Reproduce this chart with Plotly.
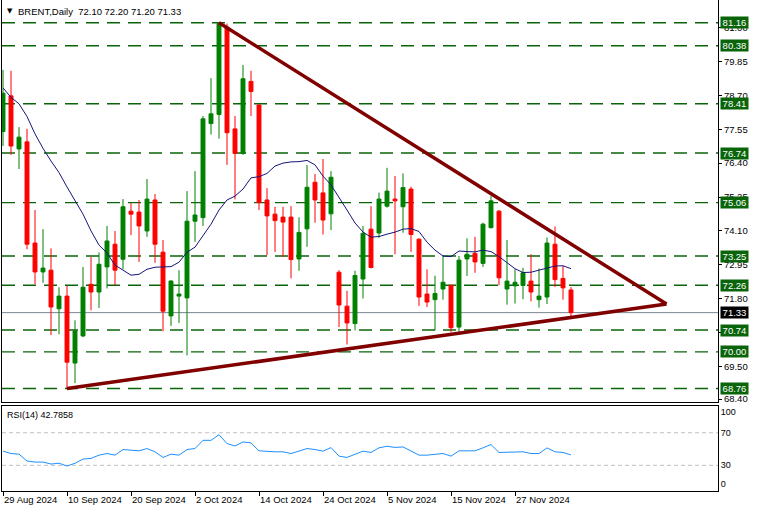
import plotly.graph_objects as go
import pandas as pd

# ---------------- data ----------------
dates = [d.strftime("%d %b %Y") for d in pd.bdate_range("2024-08-29", "2024-12-06")]

opens = [77.47, 78.68, 76.88, 77.12, 73.69, 72.71, 72.77, 71.46, 71.89, 69.62,
         70.54, 72.29, 72.03, 72.88, 73.65, 73.14, 74.77, 74.74, 74.10, 75.15,
         73.38, 71.22, 71.89, 71.83, 74.43, 74.55, 77.74, 78.05, 81.01, 77.56,
         76.73, 79.17, 78.37, 75.15, 74.67, 74.57, 74.57, 73.15, 74.17, 75.75,
         75.39, 74.68, 72.70, 71.55, 70.96, 72.47, 74.16, 74.03, 74.94, 75.18,
         74.92, 75.52, 73.82, 71.96, 71.77, 72.13, 72.26, 70.84, 73.15, 73.34,
         73.00, 74.21, 74.77, 72.13, 72.24, 72.25, 72.40, 71.77, 71.86, 73.65,
         72.49, 72.10]
highs = [79.56, 79.53, 77.62, 77.56, 74.81, 74.16, 73.51, 72.19, 72.24, 71.07,
         72.88, 73.22, 73.37, 74.27, 74.10, 75.18, 75.04, 75.15, 75.86, 75.35,
         73.79, 72.43, 72.77, 75.45, 76.13, 78.00, 79.28, 81.16, 81.13, 78.00,
         79.73, 79.53, 78.40, 75.55, 74.92, 74.92, 74.94, 74.56, 76.34, 76.03,
         76.54, 76.13, 72.77, 72.07, 72.75, 74.27, 74.94, 75.40, 76.24, 75.96,
         76.05, 75.60, 73.85, 72.80, 72.58, 73.25, 72.26, 73.25, 73.85, 73.90,
         74.38, 75.28, 74.81, 73.79, 72.80, 72.85, 73.31, 72.83, 73.88, 74.25,
         72.92, 72.20]
lows = [76.98, 76.68, 76.20, 73.48, 72.29, 72.34, 70.57, 70.60, 68.76, 68.94,
        70.50, 71.41, 71.49, 72.15, 72.26, 72.80, 73.96, 73.05, 73.90, 73.02,
        70.70, 70.88, 70.98, 69.88, 73.73, 74.27, 77.37, 77.23, 76.34, 75.17,
        76.68, 78.00, 74.81, 73.28, 73.39, 73.22, 72.49, 72.75, 73.56, 74.38,
        73.98, 74.13, 70.84, 70.25, 70.73, 71.81, 72.83, 73.87, 74.89, 73.31,
        74.04, 73.39, 71.56, 71.52, 70.73, 71.77, 70.67, 70.64, 72.57, 72.68,
        72.88, 74.19, 72.26, 71.60, 71.64, 71.78, 71.71, 71.50, 71.62, 72.20,
        71.77, 71.20]
closes = [78.77, 76.98, 77.28, 73.65, 72.71, 72.84, 71.52, 71.89, 69.65, 70.71,
          72.19, 72.03, 72.97, 73.76, 72.77, 74.92, 74.67, 74.27, 75.18, 73.65,
          71.38, 72.40, 71.96, 74.43, 74.64, 77.90, 78.07, 81.13, 77.43, 76.73,
          79.26, 78.83, 75.06, 74.61, 74.45, 74.40, 73.13, 74.05, 75.58, 75.15,
          74.47, 75.92, 71.59, 70.98, 72.59, 74.02, 72.86, 75.18, 75.45, 75.12,
          75.57, 73.98, 71.86, 71.69, 71.98, 72.36, 70.82, 73.11, 73.31, 73.05,
          74.33, 75.12, 72.51, 72.40, 72.36, 72.68, 72.03, 71.89, 73.69, 72.45,
          72.17, 71.33]
ma = [78.95, 78.63, 78.41, 77.98, 77.39, 76.90, 76.47, 76.08, 75.59, 75.15,
      74.67, 74.10, 73.62, 73.35, 72.94, 72.77, 72.60, 72.63, 72.80, 72.87,
      72.87, 72.89, 73.04, 73.38, 73.55, 73.92, 74.33, 74.81, 75.15, 75.28,
      75.52, 75.90, 75.94, 76.05, 76.30, 76.40, 76.44, 76.45, 76.49, 76.34,
      75.96, 75.66, 75.25, 74.81, 74.37, 74.06, 73.89, 73.91, 73.99, 74.06,
      74.16, 74.18, 74.08, 73.72, 73.45, 73.25, 73.23, 73.42, 73.40, 73.39,
      73.45, 73.40, 73.23, 73.01, 72.82, 72.69, 72.70, 72.77, 72.85, 72.91,
      72.92, 72.82]
rsi = [47.5, 44.5, 43.7, 35.3, 34.0, 34.0, 31.6, 32.6, 29.2, 32.5,
       37.7, 38.5, 42.5, 44.5, 42.5, 49.4, 48.6, 47.8, 50.6, 46.6,
       39.7, 43.7, 42.5, 49.4, 50.6, 60.7, 60.7, 67.6, 56.7, 53.8,
       58.7, 57.5, 47.8, 46.8, 46.6, 46.6, 44.5, 47.5, 50.6, 49.4,
       47.4, 51.8, 41.3, 39.7, 43.7, 47.4, 45.8, 51.5, 53.4, 52.0,
       52.6, 47.4, 42.5, 42.5, 43.5, 44.5, 41.3, 47.8, 47.8, 47.8,
       51.5, 55.5, 45.8, 45.8, 45.8, 46.6, 44.5, 44.5, 51.4, 46.6,
       45.8, 42.79]

levels = [81.16, 80.38, 78.41, 76.74, 75.06, 73.25, 72.26, 70.74, 70.00, 68.76]
last_price = 71.33
price_ticks = [81.00, 79.85, 78.70, 77.55, 76.40, 75.25, 74.10, 72.95, 71.80, 70.65, 69.50, 68.40]

# trend lines (bar index, price)
res_x = [27, 82.94]
res_y = [81.16, 71.62]
sup_x = [8, 82.94]
sup_y = [68.76, 71.62]

date_tick_idx = [0, 8, 16, 24, 32, 40, 48, 56, 64]
date_tick_text = ["29 Aug 2024", "10 Sep 2024", "20 Sep 2024", "2 Oct 2024", "14 Oct 2024",
                  "24 Oct 2024", "5 Nov 2024", "15 Nov 2024", "27 Nov 2024"]
rsi_tick_vals = [95.8, 70, 30, 6.7]
rsi_tick_text = ["100", "70", "30", "0"]

title_text = "BRENT,Daily  72.10 72.20 71.20 71.33"
rsi_text = "RSI(14) 42.7858"

# ---------------- figure ----------------
FONT = "Liberation Sans, Arial, sans-serif"
W, H = 758, 512
ML, MR, MT, MB = 2, 40, 0, 21
PW, PH = W - ML - MR, H - MT - MB

x = list(range(len(closes)))

fig = go.Figure()

fig.add_trace(go.Candlestick(
    x=x, open=opens, high=highs, low=lows, close=closes,
    xaxis="x", yaxis="y",
    increasing=dict(line=dict(color="#008000", width=1), fillcolor="#008000"),
    decreasing=dict(line=dict(color="#FF0000", width=1), fillcolor="#FF0000"),
    whiskerwidth=0, showlegend=False, hoverinfo="skip"))

fig.add_trace(go.Scatter(x=x, y=ma, mode="lines", xaxis="x", yaxis="y",
                         line=dict(color="#14147A", width=1), showlegend=False,
                         hoverinfo="skip"))

for tx, ty in ((res_x, res_y), (sup_x, sup_y)):
    fig.add_trace(go.Scatter(x=tx, y=ty, mode="lines", xaxis="x", yaxis="y",
                             line=dict(color="#800000", width=3.5), showlegend=False,
                             hoverinfo="skip"))

fig.add_trace(go.Scatter(x=x, y=rsi, mode="lines", xaxis="x2", yaxis="y2",
                         line=dict(color="#1E90FF", width=1), showlegend=False,
                         hoverinfo="skip"))

shapes = []
for lv in levels:
    shapes.append(dict(type="line", xref="x domain", yref="y", x0=0, x1=1, y0=lv, y1=lv,
                       line=dict(color="#0A640A", width=1.4, dash="13px,8px"), layer="below"))
shapes.append(dict(type="line", xref="x domain", yref="y", x0=0, x1=1,
                   y0=last_price, y1=last_price,
                   line=dict(color="#7A8590", width=1), layer="below"))
for lv in (70, 30):
    shapes.append(dict(type="line", xref="x2 domain", yref="y2", x0=0, x1=1, y0=lv, y1=lv,
                       line=dict(color="#C0C0C0", width=1, dash="4px,3px"), layer="below"))

def px_to_paper_x(px):
    return (px - ML) / PW

def py_to_paper_y(py):
    return (H - MB - py) / PH

annotations = []
for lv in levels:
    annotations.append(dict(xref="paper", yref="y", x=px_to_paper_x(720), y=lv,
                            xanchor="left", yanchor="middle", text=f"{lv:.2f}",
                            showarrow=False, bgcolor="#0A640A", borderpad=0,
                            width=27, height=11,
                            font=dict(family=FONT, size=9.5, color="white")))
annotations.append(dict(xref="paper", yref="y", x=px_to_paper_x(720), y=last_price,
                        xanchor="left", yanchor="middle", text=f"{last_price:.2f}",
                        showarrow=False, bgcolor="#000000", borderpad=0,
                        width=27, height=11,
                        font=dict(family=FONT, size=9.5, color="white")))
annotations.append(dict(xref="paper", yref="paper", x=px_to_paper_x(5), y=py_to_paper_y(11),
                        xanchor="left", yanchor="middle", text="▼", showarrow=False,
                        font=dict(family="DejaVu Sans", size=7, color="black")))
annotations.append(dict(xref="paper", yref="paper", x=px_to_paper_x(16), y=py_to_paper_y(11),
                        xanchor="left", yanchor="middle", text=title_text, showarrow=False,
                        font=dict(family=FONT, size=9.5, color="black")))
annotations.append(dict(xref="paper", yref="paper", x=px_to_paper_x(5), y=py_to_paper_y(415),
                        xanchor="left", yanchor="middle", text=rsi_text, showarrow=False,
                        font=dict(family=FONT, size=9, color="black")))

main_bottom = py_to_paper_y(402.3)
rsi_top = py_to_paper_y(405.7)

fig.update_layout(
    width=W, height=H,
    margin=dict(l=ML, r=MR, t=MT, b=MB, pad=0),
    paper_bgcolor="white", plot_bgcolor="white",
    font=dict(family=FONT, size=9, color="black"),
    showlegend=False,
    shapes=shapes, annotations=annotations,
    xaxis=dict(domain=[0, 1], anchor="y", range=[-0.125, 89.375],
               showgrid=False, zeroline=False, showticklabels=False, ticks="",
               showline=True, linecolor="black", linewidth=1,
               rangeslider=dict(visible=False), fixedrange=True),
    yaxis=dict(domain=[main_bottom, 1], anchor="x", side="right",
               range=[68.29, 81.93], showgrid=False, zeroline=False,
               tickvals=price_ticks, ticktext=[f"{v:.2f}" for v in price_ticks],
               ticks="outside", ticklen=3, tickcolor="black",
               showline=True, linecolor="black", linewidth=1, mirror=True,
               tickfont=dict(family=FONT, size=9.5, color="black")),
    xaxis2=dict(domain=[0, 1], anchor="y2", range=[-0.125, 89.375],
                showgrid=False, zeroline=False,
                tickvals=date_tick_idx, ticktext=date_tick_text,
                ticks="outside", ticklen=4, tickcolor="black",
                ticklabelposition="outside right",
                showline=True, linecolor="black", linewidth=1, mirror=True,
                tickfont=dict(family=FONT, size=9.5, color="black")),
    yaxis2=dict(domain=[0, rsi_top], anchor="x2", side="right",
                range=[-1.5, 103.2], showgrid=False, zeroline=False,
                tickvals=rsi_tick_vals, ticktext=rsi_tick_text, ticks="",
                showline=True, linecolor="black", linewidth=1, mirror=True,
                tickfont=dict(family=FONT, size=9, color="black")),
)

fig.write_html("out.html",
               config={"displayModeBar": False},
               post_script="document.body.style.margin='0';document.body.style.overflow='hidden';")
